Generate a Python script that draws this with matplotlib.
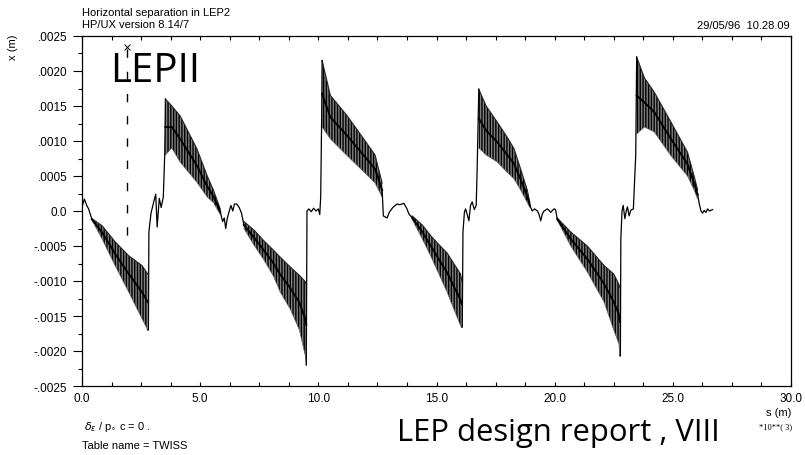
import matplotlib.pyplot as plt
import numpy as np

nan = np.nan

# s in units of 10**3 m, x in m
x_ticks = [0, 5, 10, 15, 20, 25, 30]
x_ticklabels = ['0.0', '5.0', '10.0', '15.0', '20.0', '25.0', '30.0']
y_ticks = [0.0025, 0.0020, 0.0015, 0.0010, 0.0005, 0.0,
           -0.0005, -0.0010, -0.0015, -0.0020, -0.0025]
y_ticklabels = ['.0025', '.0020', '.0015', '.0010', '.0005', '0.0',
                '-.0005', '-.0010', '-.0015', '-.0020', '-.0025']

# envelopes of the fast oscillating parts (NaN separates the arcs)
s_band = [0.42, 0.85, 1.4, 1.98, 2.54, 2.78, nan,
          3.53, 3.8, 4.15, 4.86, 5.3, 5.56, 5.85, nan,
          6.85, 7.3, 7.68, 8.1, 8.39, 8.81, 9.2, 9.45, 9.49, nan,
          10.16, 10.51, 11.22, 11.92, 12.4, 12.7, nan,
          13.97, 14.4, 14.75, 15.1, 15.45, 15.73, 16.02, 16.07, nan,
          16.79, 17.1, 17.57, 18.0, 18.28, 18.56, 18.84, 18.95, nan,
          20.11, 20.68, 21.38, 22.09, 22.5, 22.72, 22.76, nan,
          23.47, 23.8, 24.21, 24.92, 25.62, 25.9, 26.05]
x_upper = [-0.00011, -0.00021, -0.00044, -0.00064, -0.00078, -0.0009, nan,
           0.0016, 0.0015, 0.00136, 0.00089, 0.0005, 0.0003, 0.00003, nan,
           -0.00015, -0.00028, -0.00042, -0.00056, -0.00066, -0.0008, -0.00092, -0.00101, -0.00105, nan,
           0.00215, 0.00165, 0.00136, 0.00103, 0.0008, 0.0004, nan,
           -0.00007, -0.0002, -0.00035, -0.00048, -0.0006, -0.00075, -0.0009, -0.001, nan,
           0.00174, 0.0015, 0.00127, 0.00105, 0.00089, 0.0006, 0.0003, 0.00012, nan,
           -0.0001, -0.0003, -0.0005, -0.00078, -0.0009, -0.00105, -0.0011, nan,
           0.0022, 0.0019, 0.0017, 0.00127, 0.00084, 0.0005, 0.0003]
x_lower = [-0.00013, -0.0004, -0.00078, -0.00116, -0.00154, -0.0017, nan,
           0.0008, 0.0009, 0.0007, 0.00041, 0.0002, 0.00012, -0.00005, nan,
           -0.00025, -0.0005, -0.00069, -0.00093, -0.00116, -0.0014, -0.0017, -0.00207, -0.0022, nan,
           0.0012, 0.00103, 0.00079, 0.00056, 0.0004, 0.0002, nan,
           -0.00012, -0.0004, -0.00064, -0.0009, -0.00116, -0.0014, -0.00164, -0.00166, nan,
           0.0009, 0.0008, 0.0007, 0.00055, 0.00046, 0.0003, 0.00012, 0.00005, nan,
           -0.00013, -0.0005, -0.00087, -0.0013, -0.0017, -0.0019, -0.00207, nan,
           0.0011, 0.0012, 0.00113, 0.00079, 0.0005, 0.0003, 0.00017]

# the plain trace between the oscillating arcs (jumps and small wiggles)
s_trace = [0.0, 0.1, 0.2, 0.28, 0.42, nan,
           2.78, 2.81, 2.83, 2.92, 3.05, 3.12, 3.18, 3.27, 3.35, 3.44, 3.5, 3.53, nan,
           5.85, 5.95, 6.02, 6.08, 6.15, 6.3, 6.38, 6.45, 6.55, 6.65, 6.75, 6.85, nan,
           9.49, 9.52, 9.6, 9.7, 9.8, 9.9, 10.0, 10.06, 10.1, 10.14, 10.16, nan,
           12.7, 12.75, 12.91, 13.0, 13.15, 13.33, 13.45, 13.62, 13.75, 13.83, 13.97, nan,
           16.07, 16.09, 16.12, 16.18, 16.23, 16.3, 16.37, 16.44, 16.51, 16.6, 16.68, 16.72, 16.79, nan,
           18.95, 19.05, 19.15, 19.27, 19.34, 19.41, 19.48, 19.55, 19.69, 19.76, 19.83, 19.97, 20.04, 20.11, nan,
           22.76, 22.78, 22.8, 22.85, 22.9, 22.97, 23.03, 23.08, 23.15, 23.22, 23.33, 23.43, 23.47, nan,
           26.05, 26.12, 26.19, 26.26, 26.33, 26.4, 26.47, 26.55, 26.68]
x_trace = [0.00006, 0.00017, 0.00008, 0.00003, -0.00012, nan,
           -0.0017, -0.0017, -0.0003, -0.00003, 0.00015, 0.00024, -0.00023, 0.00018, 0.00005, 0.0002, 0.0008, 0.0016, nan,
           -0.00001, -0.00015, -0.0001, -0.00025, -0.0001, 0.00008, 0.0, 0.0001, 0.0001, 0.00005, -0.00003, -0.0002, nan,
           -0.0022, 0.0, 0.00003, -0.00001, 0.00004, 0.0, 0.00003, -0.00005, 0.0002, 0.0013, 0.00215, nan,
           0.0003, -0.00007, -0.0001, -0.00002, 0.00005, 0.0001, 0.00009, 0.00011, 0.00003, -0.00004, -0.0001, nan,
           -0.00166, -0.00166, -0.0003, -0.00002, 0.00003, -0.00005, -0.00014, 0.00008, 0.00013, 0.00002, 0.00008, 0.0006, 0.00174, nan,
           0.00008, 0.0, 0.00003, 0.0, -0.00005, -0.00014, -0.00004, 0.0, 0.00003, 0.00001, -0.00002, 0.00003, 0.00002, -0.00012, nan,
           -0.00207, -0.00207, -0.0004, 0.0, 0.00008, -0.00011, 0.0, 0.00006, -0.00007, 0.00001, 0.00003, 0.0008, 0.0022, nan,
           0.00024, 0.0001, 0.0, -0.00003, 0.00001, -0.00002, 0.00003, 0.0, 0.00002]

# LEPII marker (dashed line with a cross on top)
marker_s = 1.9
marker_top = 0.00235
marker_bottom = -0.00035

plt.rcParams['font.family'] = ['Liberation Sans', 'DejaVu Sans']
plt.rcParams['hatch.color'] = 'black'
plt.rcParams['hatch.linewidth'] = 1.0

fig = plt.figure(figsize=(8.05, 4.56), dpi=100)
W, H = 805, 456
ax = fig.add_axes([82 / W, 1 - 387 / H, (791 - 82) / W, (387 - 37) / H])

s_band = np.array(s_band)
x_upper = np.array(x_upper)
x_lower = np.array(x_lower)
ax.fill_between(s_band, x_lower, x_upper, facecolor='0.5', edgecolor='black',
                hatch='|' * 6, linewidth=0)
ax.plot(s_band, x_upper, color='0.15', lw=0.8)
ax.plot(s_band, x_lower, color='0.4', lw=0.5)
ax.plot(s_band, (x_upper + x_lower) / 2, color='black', lw=1.4)
ax.plot(s_trace, x_trace, color='black', lw=0.9)

ax.plot([marker_s, marker_s], [marker_top - 0.00003, marker_bottom], color='black',
        lw=1.0, linestyle=(0, (6, 10)))
ax.plot([marker_s], [marker_top], marker='x', color='black', ms=5, mew=0.7)

ax.set_xlim(0, 30)
ax.set_ylim(-0.0025, 0.0025)
ax.set_xticks(x_ticks)
ax.set_xticklabels(x_ticklabels)
ax.set_xticks(np.arange(0, 30.01, 1.25), minor=True)
ax.set_yticks(y_ticks)
ax.set_yticklabels(y_ticklabels)
ax.set_yticks(np.arange(-0.00225, 0.0025, 0.0005), minor=True)

ax.tick_params(axis='x', which='both', direction='in', top=True, length=3,
               width=0.8, labelsize=8.5, pad=4)
ax.tick_params(axis='y', which='major', direction='out', length=6.5, width=0.8,
               labelsize=8.5, pad=4)
ax.tick_params(axis='y', which='minor', direction='out', length=3, width=0.8)
for sp in ax.spines.values():
    sp.set_linewidth(0.9)

# header and footer texts
fig.text(82 / W, 1 - 13 / H, 'Horizontal separation in LEP2', fontsize=8,
         va='center', ha='left')
fig.text(82 / W, 1 - 25 / H, 'HP/UX version 8.14/7', fontsize=8,
         va='center', ha='left')
fig.text(790 / W, 1 - 26 / H, '29/05/96  10.28.09', fontsize=8,
         va='center', ha='right')
fig.text(13 / W, 1 - 47 / H, 'x (m)', fontsize=8, rotation=90,
         va='center', ha='center')
fig.text(791 / W, 1 - 413 / H, 's (m)', fontsize=8, va='center', ha='right')
fig.text(792 / W, 1 - 427 / H, '*10**( 3)', fontsize=6,
         family='Liberation Serif', va='center', ha='right')
fig.text(84 / W, 1 - 427 / H, r'$\delta_{\epsilon}$ / p$_{\circ}$ c = 0 .',
         fontsize=8, va='center', ha='left')
fig.text(82 / W, 1 - 446 / H, 'Table name = TWISS', fontsize=8,
         va='center', ha='left')

# annotations added on the slide
fig.text(110 / W, 1 - 82 / H, 'LEPII', fontsize=29, family='Open Sans',
         va='baseline', ha='left')
fig.text(397 / W, 1 - 441 / H, 'LEP design report , VIII', fontsize=22.3,
         family='Open Sans', va='baseline', ha='left')

fig.savefig('out.png', dpi=100)
